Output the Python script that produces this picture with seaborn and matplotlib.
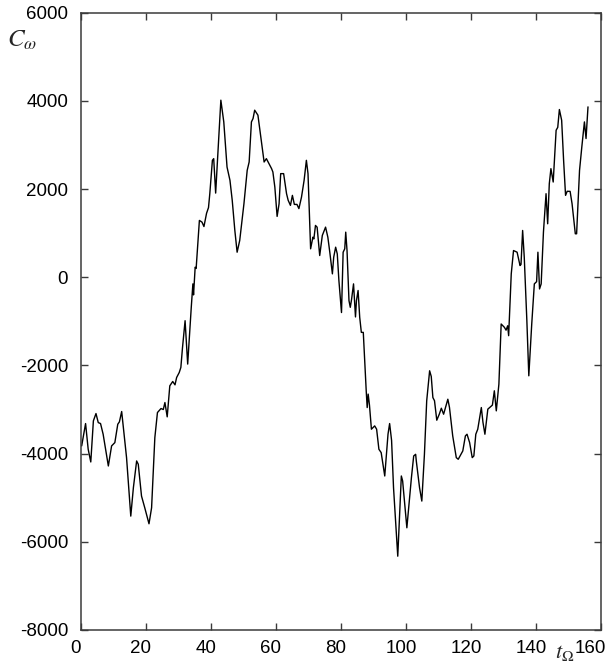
import matplotlib
matplotlib.use("Agg")
import matplotlib.pyplot as plt
import matplotlib.transforms as mtransforms
import numpy as np
import pandas as pd
import seaborn as sns

# Sampled series C_omega versus t_Omega
t_values = [
    0.3, 1.5, 2.3, 3.1, 3.9, 4.7, 5.4, 6.1, 6.9, 8.5, 9.5, 10.5, 11.4, 11.9, 12.6,
    14.1, 15.4, 16.2, 17.2, 17.7, 18.7, 19.7, 21.0, 21.8, 22.8, 23.6, 24.7, 25.4,
    25.9, 26.6, 27.4, 28.3, 29.0, 29.5, 30.3, 30.8, 31.3, 32.1, 32.9, 34.0, 34.5,
    34.7, 35.2, 35.5, 36.5, 37.3, 37.9, 38.7, 39.3, 39.7, 40.5, 40.9, 41.5, 42.3,
    43.1, 44.0, 45.0, 45.9, 46.6, 47.4, 48.1, 48.9, 50.2, 51.2, 51.8, 52.5, 53.0,
    53.5, 54.5, 55.6, 56.4, 57.1, 57.9, 58.7, 59.1, 59.7, 60.4, 61.0, 61.5, 62.4,
    63.3, 63.8, 64.5, 65.1, 65.7, 66.5, 67.1, 67.9, 68.7, 69.4, 69.9, 70.7, 71.4,
    71.7, 72.2, 72.7, 73.5, 74.3, 75.3, 76.0, 76.6, 77.4, 77.8, 78.4, 78.9, 79.4,
    80.2, 80.7, 81.2, 81.5, 81.9, 82.5, 82.9, 83.3, 83.9, 84.5, 84.8, 85.3, 85.8,
    86.3, 86.9, 87.8, 88.1, 88.4, 88.8, 89.4, 90.4, 91.0, 91.7, 92.4, 93.5, 94.5,
    95.0, 95.6, 96.2, 97.5, 98.6, 99.0, 100.3, 101.7, 102.4, 103.0, 103.2, 104.2,
    104.9, 105.7, 106.4, 107.3, 107.8, 108.3, 108.8, 109.5, 110.3, 110.9, 111.6,
    112.9, 113.4, 114.4, 115.5, 116.1, 117.5, 118.3, 118.8, 119.6, 120.4, 120.9,
    121.5, 122.1, 123.2, 123.7, 124.3, 125.2, 126.6, 127.2, 127.8, 128.6, 129.3,
    130.3, 130.8, 131.3, 131.6, 132.4, 133.1, 134.2, 135.1, 135.4, 135.9, 136.4,
    137.2, 137.8, 138.7, 139.5, 140.2, 140.6, 141.1, 141.6, 142.3, 143.1, 143.6,
    144.1, 144.6, 145.3, 146.2, 146.7, 147.2, 147.9, 148.5, 149.1, 149.6, 150.5,
    151.1, 152.1, 152.5, 153.4, 154.1, 154.9, 155.4, 156.0,
]
c_values = [
    -3825, -3318, -3900, -4189, -3257, -3091, -3296, -3318, -3560, -4280, -3825,
    -3750, -3333, -3280, -3045, -4091, -5417, -4773, -4166, -4240, -4962, -5228,
    -5591, -5228, -3637, -3068, -2977, -3000, -2841, -3166, -2462, -2364, -2440,
    -2273, -2160, -2045, -1600, -985, -1969, -682, -150, -400, 227, 200, 1289,
    1250, 1150, 1450, 1580, 1895, 2652, 2690, 1909, 2955, 4016, 3523, 2500, 2198,
    1743, 1061, 568, 834, 1668, 2425, 2614, 3523, 3600, 3789, 3676, 3069, 2614,
    2690, 2577, 2463, 2387, 2046, 1380, 1665, 2350, 2350, 1895, 1745, 1630, 1857,
    1652, 1652, 1557, 1818, 2198, 2652, 2350, 645, 909, 870, 1175, 1136, 493, 948,
    1137, 909, 568, 77, 455, 682, 530, -75, -800, 568, 645, 1023, 606, -530, -682,
    -500, -150, -900, -530, -300, -909, -1250, -1250, -2575, -2955, -2650, -2900,
    -3446, -3371, -3446, -3901, -3977, -4507, -3560, -3318, -3700, -4773, -6326,
    -4507, -4620, -5682, -4546, -4053, -4015, -4165, -4773, -5076, -4015, -2803,
    -2121, -2250, -2728, -2800, -3242, -3100, -2970, -3106, -2766, -2950, -3598,
    -4091, -4128, -3939, -3598, -3560, -3750, -4091, -4053, -3560, -3446, -2955,
    -3290, -3560, -2991, -2900, -2575, -3030, -2424, -1060, -1136, -1200, -1100,
    -1325, 77, 606, 568, 265, 290, 1061, 455, -985, -2235, -1060, -150, -100, 568,
    -265, -150, 1023, 1895, 1213, 2122, 2463, 2160, 3334, 3400, 3804, 3561, 2652,
    1857, 1950, 1948, 1668, 986, 986, 2425, 2955, 3523, 3146, 3864,
]

x_ticks = [0, 20, 40, 60, 80, 100, 120, 140, 160]
y_ticks = [-8000, -6000, -4000, -2000, 0, 2000, 4000, 6000]

sns.set_style("ticks")
plt.rcParams["font.family"] = ["Liberation Sans", "DejaVu Sans"]
plt.rcParams["mathtext.fontset"] = "stix"

df = pd.DataFrame({"t": t_values, "C": c_values})

fig = plt.figure(figsize=(6.13, 6.63), dpi=100)
ax = fig.add_axes([80.7 / 613, 1 - 630 / 663, (601 - 80.7) / 613, (630 - 12.7) / 663])

sns.lineplot(data=df, x="t", y="C", ax=ax, color="black", linewidth=1.0,
             estimator=None, sort=False)

ax.set_xlim(0, 160)
ax.set_ylim(-8000, 6000)
ax.set_xticks(x_ticks)
ax.set_yticks(y_ticks)
ax.set_xticklabels([str(v) for v in x_ticks])
ax.set_yticklabels([str(v) for v in y_ticks])
ax.set_xlabel("")
ax.set_ylabel("")

edge = "#3a3a3a"
for s in ax.spines.values():
    s.set_visible(True)
    s.set_color(edge)
    s.set_linewidth(1.1)
ax.tick_params(axis="both", which="both", direction="in", length=5, width=1.0,
               color=edge, labelsize=13.5, labelcolor="black",
               top=True, right=True, pad=9)
ax.tick_params(axis="x", pad=7)

# nudge the x tick labels slightly left
shift = mtransforms.ScaledTranslation(-5 / 100, 0, fig.dpi_scale_trans)
for i, lab in enumerate(ax.get_xticklabels()):
    extra = -6 / 100 if i == len(x_ticks) - 1 else 0
    lab.set_transform(lab.get_transform() + shift +
                      mtransforms.ScaledTranslation(extra, 0, fig.dpi_scale_trans))

fig.text(7 / 613, 1 - 40 / 663, r"$C_{\omega}$", fontsize=18, ha="left", va="center")
fig.text(555 / 613, 1 - 658 / 663, r"$t_{\Omega}$", fontsize=16, ha="left",
         va="baseline")

fig.savefig("out.png", dpi=100)
